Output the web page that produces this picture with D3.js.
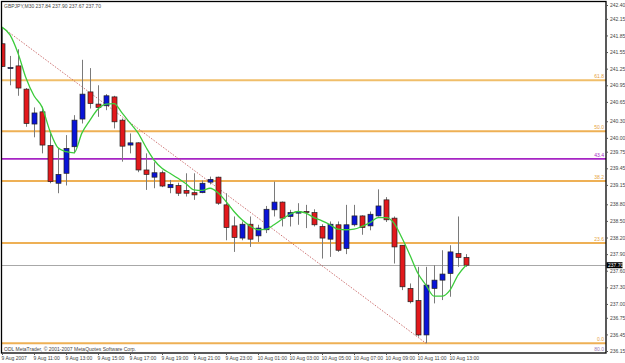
<!DOCTYPE html>
<html>
<head>
<meta charset="utf-8">
<script src="https://cdn.jsdelivr.net/npm/d3@7"></script>
<style>
  body { margin: 0; background: #fff; }
  svg { display: block; }
  .axis text { font-family: "Liberation Sans", Arial, sans-serif; font-size: 5px; fill: #444; }
</style>
</head>
<body>
<div id="chart"></div>
<script>
// GBPJPY M30 bars, 9 Aug 09:00 .. 10 Aug 14:00
var opens = [241.70, 241.27, 241.30, 240.88, 240.25, 240.47, 239.86, 239.18, 239.36, 239.84,
  240.34, 240.83, 240.61, 240.58, 240.74, 240.32, 239.87, 239.91, 239.42, 239.29,
  239.37, 239.10, 239.14, 239.05, 239.01, 239.01, 239.20, 239.29, 238.79, 238.41,
  238.19, 238.44, 238.23, 238.34, 238.70, 238.84, 238.58, 238.64, 238.67, 238.65,
  238.40, 238.17, 238.43, 238.00, 238.43, 238.59, 238.41, 238.59, 238.88, 238.55,
  238.06, 237.28, 237.06, 236.44, 237.28, 237.43, 237.55, 237.91, 237.84];
var highs = [242.00, 241.48, 241.60, 240.90, 240.55, 240.56, 240.08, 239.81, 240.05, 240.41,
  241.41, 241.26, 240.95, 240.79, 240.76, 240.35, 240.08, 239.92, 239.72, 239.56,
  239.41, 239.24, 239.19, 239.36, 239.36, 239.23, 239.30, 239.30, 239.00, 238.58,
  238.49, 238.58, 238.43, 238.77, 239.21, 238.85, 238.70, 238.82, 238.79, 238.71,
  238.44, 238.49, 238.49, 238.79, 238.79, 238.60, 238.67, 239.07, 238.93, 238.58,
  238.06, 237.37, 237.67, 237.67, 237.70, 237.97, 238.06, 238.58, 237.90];
var lows = [241.28, 240.95, 240.76, 240.20, 240.01, 239.72, 239.18, 239.00, 239.14, 239.72,
  240.26, 240.53, 240.38, 240.50, 240.17, 239.57, 239.72, 239.38, 239.06, 239.09,
  239.11, 239.00, 238.95, 238.94, 238.88, 239.00, 239.16, 238.79, 238.15, 237.94,
  238.15, 238.03, 238.12, 238.28, 238.58, 238.40, 238.40, 238.43, 238.37, 238.40,
  237.82, 237.85, 237.94, 237.90, 238.40, 238.25, 238.33, 238.58, 238.48, 237.73,
  237.25, 237.01, 236.41, 236.29, 237.01, 237.07, 237.13, 237.67, 237.67];
var closes = [241.29, 241.27, 240.90, 240.26, 240.45, 239.87, 239.21, 239.34, 239.81, 240.32,
  240.79, 240.62, 240.55, 240.76, 240.29, 239.85, 239.91, 239.42, 239.34, 239.37,
  239.13, 239.16, 239.00, 239.00, 238.97, 239.18, 239.25, 238.82, 238.38, 238.20,
  238.44, 238.17, 238.37, 238.71, 238.84, 238.55, 238.65, 238.67, 238.66, 238.43,
  238.19, 238.44, 237.97, 238.43, 238.59, 238.38, 238.62, 238.77, 238.52, 238.03,
  237.31, 237.04, 236.44, 237.34, 237.43, 237.54, 237.94, 237.84, 237.70];
// moving average (green)
var maValues = [242.00, 241.86, 241.53, 241.08, 240.76, 240.56, 240.12, 239.82, 239.75, 239.73,
  240.09, 240.32, 240.52, 240.61, 240.62, 240.45, 240.27, 240.09, 239.83, 239.60,
  239.45, 239.36, 239.27, 239.17, 239.06, 239.05, 239.09, 239.01, 238.85, 238.67,
  238.52, 238.41, 238.34, 238.35, 238.43, 238.53, 238.62, 238.67, 238.64, 238.56,
  238.50, 238.43, 238.35, 238.34, 238.35, 238.40, 238.47, 238.56, 238.56, 238.46,
  238.19, 237.88, 237.55, 237.34, 237.14, 237.14, 237.25, 237.52, 237.70];

var priceTicks = [242.40, 242.15, 241.85, 241.55, 241.25, 240.95, 240.65, 240.30, 240.00,
  239.75, 239.45, 239.15, 238.80, 238.50, 238.20, 237.90, 237.60, 237.30, 237.00,
  236.75, 236.45, 236.15];
var timeTickBars = [0, 4, 8, 12, 16, 20, 24, 28, 32, 36, 40, 44, 48, 52, 56];
var timeTickLabels = ["9 Aug 2007", "9 Aug 11:00", "9 Aug 13:00", "9 Aug 15:00", "9 Aug 17:00",
  "9 Aug 19:00", "9 Aug 21:00", "9 Aug 23:00", "10 Aug 01:00", "10 Aug 03:00",
  "10 Aug 05:00", "10 Aug 07:00", "10 Aug 09:00", "10 Aug 11:00", "10 Aug 13:00"];

// fibonacci levels and the extra purple level
var fibPrices = [241.04, 240.12, 239.22, 238.10, 236.29];
var fibLabels = ["61.8", "50.0", "38.2", "23.6", "0.0"];
var purplePrices = [239.62];
var purpleLabels = ["43.4"];
var trendFrom = { bar: 0, price: 242.00 };
var trendTo = { bar: 53, price: 236.29 };
var lastPrice = 237.70;

var width = 625, height = 363;
var plot = { left: 2, top: 1.5, right: 606, bottom: 353 };

var svg = d3.select("#chart").append("svg")
    .attr("width", width)
    .attr("height", height);

var x = d3.scaleLinear().domain([0, 75.5]).range([plot.left, plot.right]);
var y = d3.scaleLinear().domain([236.15, 242.40]).range([351, 5]);

svg.append("clipPath").attr("id", "clip")
  .append("rect")
    .attr("x", plot.left).attr("y", plot.top)
    .attr("width", plot.right - plot.left).attr("height", plot.bottom - plot.top);

var g = svg.append("g").attr("clip-path", "url(#clip)");

// current price line
g.append("line")
    .attr("x1", plot.left).attr("x2", plot.right)
    .attr("y1", Math.round(y(lastPrice)) + 0.5).attr("y2", Math.round(y(lastPrice)) + 0.5)
    .attr("stroke", "#a8a8a8").attr("stroke-width", 1);

// fib levels
fibPrices.forEach(function (p, i) {
  var yy = y(p);
  g.append("line")
      .attr("x1", plot.left).attr("x2", plot.right)
      .attr("y1", yy).attr("y2", yy)
      .attr("stroke", i == 0 ? "#f0be6a" : "#eeb055").attr("stroke-width", 2);
  svg.append("text")
      .attr("x", plot.right - 2).attr("y", yy - 2)
      .attr("text-anchor", "end")
      .style("font-family", "Liberation Sans, Arial, sans-serif")
      .style("font-size", "5px")
      .attr("fill", "#e6a23c")
      .text(fibLabels[i]);
});
purplePrices.forEach(function (p, i) {
  var yy = y(p);
  g.append("line")
      .attr("x1", plot.left).attr("x2", plot.right)
      .attr("y1", yy).attr("y2", yy)
      .attr("stroke", "#a624c4").attr("stroke-width", 1.6);
  svg.append("text")
      .attr("x", plot.right - 2).attr("y", yy - 2)
      .attr("text-anchor", "end")
      .style("font-family", "Liberation Sans, Arial, sans-serif")
      .style("font-size", "5px")
      .attr("fill", "#a624c4")
      .text(purpleLabels[i]);
});
svg.append("text")
    .attr("x", plot.right - 2).attr("y", 351)
    .attr("text-anchor", "end")
    .style("font-family", "Liberation Sans, Arial, sans-serif")
    .style("font-size", "5px")
    .attr("fill", "#9a7ab0")
    .text("80.0");

// fib trend line (dotted)
g.append("line")
    .attr("x1", x(trendFrom.bar)).attr("y1", y(trendFrom.price))
    .attr("x2", x(trendTo.bar)).attr("y2", y(trendTo.price))
    .attr("stroke", "#c05050").attr("stroke-width", 0.8)
    .attr("stroke-dasharray", "1.5,1.5");

// candles
var idx = d3.range(opens.length);
g.selectAll(".wick").data(idx).enter().append("line")
    .attr("class", "wick")
    .attr("x1", function (i) { return Math.round(x(i)) + 0.5; })
    .attr("x2", function (i) { return Math.round(x(i)) + 0.5; })
    .attr("y1", function (i) { return y(highs[i]); })
    .attr("y2", function (i) { return y(lows[i]); })
    .attr("stroke", "#7a7a7a").attr("stroke-width", 1);

g.selectAll(".body").data(idx).enter().append("rect")
    .attr("class", "body")
    .attr("x", function (i) { return Math.round(x(i)) - 2; })
    .attr("width", 5)
    .attr("y", function (i) { return y(Math.max(opens[i], closes[i])); })
    .attr("height", function (i) { return Math.max(1, Math.abs(y(opens[i]) - y(closes[i]))); })
    .attr("fill", function (i) { return closes[i] >= opens[i] ? "#0a14d8" : "#e2191c"; })
    .attr("stroke", "#222").attr("stroke-width", 0.7);

// moving average
var maLine = d3.line()
    .x(function (d, i) { return x(i); })
    .y(function (d) { return y(d); })
    .curve(d3.curveMonotoneX);
g.append("path")
    .datum(maValues)
    .attr("fill", "none")
    .attr("stroke", "#3ccc3c")
    .attr("stroke-width", 1.3)
    .attr("d", maLine);

// frame
svg.append("rect")
    .attr("x", 1.5).attr("y", plot.top)
    .attr("width", plot.right - 1.5).attr("height", plot.bottom - plot.top)
    .attr("fill", "none").attr("stroke", "#000").attr("stroke-width", 1.3);

// axes
var yAxis = d3.axisRight(y).tickValues(priceTicks).tickSize(2).tickPadding(2)
    .tickFormat(d3.format(".2f"));
var ya = svg.append("g").attr("class", "axis")
    .attr("transform", "translate(" + plot.right + ",0)")
    .call(yAxis);
ya.select(".domain").remove();
ya.selectAll("line").attr("stroke", "#555");

var xAxis = d3.axisBottom(x).tickValues(timeTickBars).tickSize(2).tickPadding(1.5)
    .tickFormat(function (d, i) { return timeTickLabels[i]; });
var xa = svg.append("g").attr("class", "axis")
    .attr("transform", "translate(0," + plot.bottom + ")")
    .call(xAxis);
xa.select(".domain").remove();
xa.selectAll("text").attr("text-anchor", "start").attr("x", -1);
xa.selectAll("line").attr("stroke", "#555");

// last price marker
var lp = svg.append("g").attr("transform", "translate(" + plot.right + "," + y(lastPrice) + ")");
lp.append("rect").attr("x", 0.5).attr("y", -3).attr("width", 16).attr("height", 6).attr("fill", "#000");
lp.append("text").attr("x", 2).attr("y", 1.8)
    .style("font-family", "Liberation Sans, Arial, sans-serif")
    .style("font-size", "5px").attr("fill", "#fff")
    .text(d3.format(".2f")(lastPrice));

// captions
svg.append("text").attr("x", 4).attr("y", 7.5)
    .style("font-family", "Liberation Sans, Arial, sans-serif")
    .style("font-size", "5px").attr("fill", "#444")
    .text("GBPJPY,M30  237.84 237.90 237.67 237.70");
svg.append("text").attr("x", 4).attr("y", 350.5)
    .style("font-family", "Liberation Sans, Arial, sans-serif")
    .style("font-size", "5px").attr("fill", "#444")
    .text("ODL MetaTrader, \u00a9 2001-2007 MetaQuotes Software Corp.");
</script>
</body>
</html>
